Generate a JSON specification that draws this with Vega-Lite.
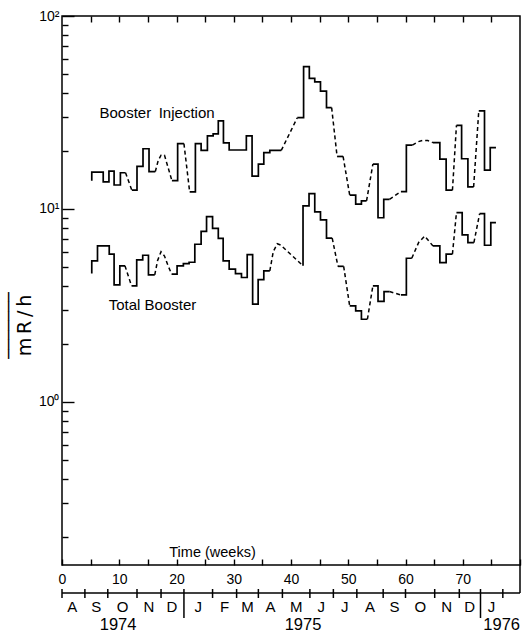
{
  "$schema": "https://vega.github.io/schema/vega-lite/v6.json",
  "background": "white",
  "padding": {"left": 6, "top": 8, "right": 0, "bottom": 0},
  "bounds": "flush",
  "spacing": 0,
  "config": {
    "font": "Liberation Sans",
    "view": {"stroke": "black", "strokeWidth": 1.5},
    "axis": {
      "domain": false,
      "grid": false,
      "tickColor": "black",
      "tickWidth": 1.4,
      "labelColor": "black",
      "labelFont": "Liberation Sans",
      "labelFontSize": 14,
      "titleColor": "black",
      "titleFont": "Liberation Sans",
      "titleFontWeight": "normal",
      "labelFlush": false,
      "labelOverlap": false
    },
    "text": {"color": "black"}
  },
  "datasets": {
    "steps": [
      {"run": "B1", "week": 5.2, "value": 14.0},
      {"run": "B1", "week": 5.2, "value": 15.5},
      {"run": "B1", "week": 7.2, "value": 13.8},
      {"run": "B1", "week": 8.2, "value": 15.7},
      {"run": "B1", "week": 9.1, "value": 13.3},
      {"run": "B1", "week": 10.2, "value": 15.4},
      {"run": "B1", "week": 11.1, "value": 15.4},
      {"run": "B2", "week": 12.2, "value": 12.5},
      {"run": "B2", "week": 13.1, "value": 16.6},
      {"run": "B2", "week": 14.15, "value": 20.5},
      {"run": "B2", "week": 15.2, "value": 15.6},
      {"run": "B2", "week": 16.3, "value": 15.6},
      {"run": "B3", "week": 19.2, "value": 14.0},
      {"run": "B3", "week": 20.2, "value": 21.8},
      {"run": "B3", "week": 21.3, "value": 21.8},
      {"run": "B4", "week": 22.3, "value": 12.25},
      {"run": "B4", "week": 23.3, "value": 21.8},
      {"run": "B4", "week": 24.3, "value": 20.1},
      {"run": "B4", "week": 25.4, "value": 23.9},
      {"run": "B4", "week": 26.4, "value": 24.5},
      {"run": "B4", "week": 27.3, "value": 28.6},
      {"run": "B4", "week": 28.2, "value": 22.0},
      {"run": "B4", "week": 29.2, "value": 20.2},
      {"run": "B4", "week": 32.2, "value": 23.9},
      {"run": "B4", "week": 33.2, "value": 14.8},
      {"run": "B4", "week": 34.3, "value": 17.05},
      {"run": "B4", "week": 35.25, "value": 19.6},
      {"run": "B4", "week": 36.3, "value": 20.1},
      {"run": "B4", "week": 38.3, "value": 20.1},
      {"run": "B5", "week": 41.1, "value": 29.7},
      {"run": "B5", "week": 42.2, "value": 54.6},
      {"run": "B5", "week": 43.2, "value": 47.5},
      {"run": "B5", "week": 44.15, "value": 45.5},
      {"run": "B5", "week": 45.15, "value": 40.8},
      {"run": "B5", "week": 46.2, "value": 33.5},
      {"run": "B5", "week": 47.1, "value": 33.5},
      {"run": "B6", "week": 48.05, "value": 18.7},
      {"run": "B6", "week": 49.1, "value": 18.7},
      {"run": "B7", "week": 50.25, "value": 11.8},
      {"run": "B7", "week": 51.3, "value": 10.6},
      {"run": "B7", "week": 52.3, "value": 11.0},
      {"run": "B7", "week": 53.2, "value": 11.0},
      {"run": "B8", "week": 54.3, "value": 17.05},
      {"run": "B8", "week": 55.2, "value": 9.0},
      {"run": "B8", "week": 56.2, "value": 11.2},
      {"run": "B8", "week": 57.2, "value": 11.2},
      {"run": "B9", "week": 59.2, "value": 12.3},
      {"run": "B9", "week": 60.15, "value": 21.4},
      {"run": "B9", "week": 61.2, "value": 21.4},
      {"run": "B10", "week": 64.8, "value": 22.05},
      {"run": "B10", "week": 66.0, "value": 18.1},
      {"run": "B10", "week": 67.1, "value": 12.5},
      {"run": "B10", "week": 68.2, "value": 12.5},
      {"run": "B11", "week": 68.9, "value": 27.1},
      {"run": "B11", "week": 69.8, "value": 18.2},
      {"run": "B11", "week": 70.9, "value": 13.0},
      {"run": "B11", "week": 71.9, "value": 13.0},
      {"run": "B12", "week": 72.8, "value": 32.2},
      {"run": "B12", "week": 73.8, "value": 15.9},
      {"run": "B12", "week": 74.8, "value": 20.8},
      {"run": "B12", "week": 75.8, "value": 20.8},
      {"run": "T1", "week": 5.2, "value": 4.62},
      {"run": "T1", "week": 5.2, "value": 5.38},
      {"run": "T1", "week": 6.2, "value": 6.43},
      {"run": "T1", "week": 8.25, "value": 5.83},
      {"run": "T1", "week": 9.1, "value": 4.04},
      {"run": "T1", "week": 10.1, "value": 5.07},
      {"run": "T1", "week": 11.0, "value": 5.07},
      {"run": "T2", "week": 12.15, "value": 3.99},
      {"run": "T2", "week": 13.05, "value": 5.44},
      {"run": "T2", "week": 14.1, "value": 5.75},
      {"run": "T2", "week": 15.1, "value": 4.55},
      {"run": "T2", "week": 16.2, "value": 4.55},
      {"run": "T3", "week": 19.15, "value": 4.59},
      {"run": "T3", "week": 20.1, "value": 5.07},
      {"run": "T3", "week": 21.2, "value": 5.21},
      {"run": "T3", "week": 22.2, "value": 5.29},
      {"run": "T3", "week": 23.2, "value": 6.56},
      {"run": "T3", "week": 24.3, "value": 7.64},
      {"run": "T3", "week": 25.25, "value": 9.11},
      {"run": "T3", "week": 26.3, "value": 7.93},
      {"run": "T3", "week": 27.3, "value": 7.03},
      {"run": "T3", "week": 28.15, "value": 5.38},
      {"run": "T3", "week": 29.2, "value": 4.87},
      {"run": "T3", "week": 30.3, "value": 4.62},
      {"run": "T3", "week": 31.35, "value": 4.41},
      {"run": "T3", "week": 32.35, "value": 5.8},
      {"run": "T3", "week": 33.3, "value": 3.21},
      {"run": "T3", "week": 34.26, "value": 4.3},
      {"run": "T3", "week": 35.25, "value": 4.77},
      {"run": "T3", "week": 36.3, "value": 4.77},
      {"run": "T4", "week": 42.1, "value": 5.07},
      {"run": "T4", "week": 42.1, "value": 10.37},
      {"run": "T4", "week": 43.15, "value": 12.0},
      {"run": "T4", "week": 44.15, "value": 9.65},
      {"run": "T4", "week": 45.15, "value": 8.77},
      {"run": "T4", "week": 46.2, "value": 7.05},
      {"run": "T4", "week": 47.2, "value": 7.05},
      {"run": "T5", "week": 48.2, "value": 5.04},
      {"run": "T5", "week": 49.2, "value": 5.04},
      {"run": "T6", "week": 50.25, "value": 3.14},
      {"run": "T6", "week": 51.3, "value": 2.96},
      {"run": "T6", "week": 52.3, "value": 2.68},
      {"run": "T6", "week": 53.35, "value": 2.68},
      {"run": "T7", "week": 54.3, "value": 3.99},
      {"run": "T7", "week": 55.2, "value": 3.32},
      {"run": "T7", "week": 56.25, "value": 3.73},
      {"run": "T7", "week": 57.2, "value": 3.73},
      {"run": "T8", "week": 59.2, "value": 3.58},
      {"run": "T8", "week": 60.15, "value": 5.55},
      {"run": "T8", "week": 61.1, "value": 5.55},
      {"run": "T9", "week": 64.8, "value": 6.43},
      {"run": "T9", "week": 66.0, "value": 5.27},
      {"run": "T9", "week": 67.1, "value": 5.83},
      {"run": "T9", "week": 68.2, "value": 5.83},
      {"run": "T10", "week": 68.9, "value": 9.57},
      {"run": "T10", "week": 69.9, "value": 7.33},
      {"run": "T10", "week": 70.9, "value": 6.69},
      {"run": "T10", "week": 71.95, "value": 6.69},
      {"run": "T11", "week": 72.95, "value": 9.45},
      {"run": "T11", "week": 73.8, "value": 6.48},
      {"run": "T11", "week": 74.9, "value": 8.49},
      {"run": "T11", "week": 75.8, "value": 8.49}
    ],
    "gaps": [
      {"gap": "b1", "week": 11.1, "value": 15.4},
      {"gap": "b1", "week": 12.2, "value": 12.5},
      {"gap": "b2", "week": 16.3, "value": 15.6},
      {"gap": "b2", "week": 16.8, "value": 17.8},
      {"gap": "b2", "week": 17.3, "value": 19.0},
      {"gap": "b2", "week": 17.9, "value": 19.0},
      {"gap": "b2", "week": 18.5, "value": 16.5},
      {"gap": "b2", "week": 19.2, "value": 14.0},
      {"gap": "b3", "week": 21.3, "value": 21.8},
      {"gap": "b3", "week": 22.3, "value": 12.25},
      {"gap": "b4", "week": 38.3, "value": 20.1},
      {"gap": "b4", "week": 41.1, "value": 29.7},
      {"gap": "b5", "week": 47.1, "value": 33.5},
      {"gap": "b5", "week": 48.05, "value": 18.7},
      {"gap": "b6", "week": 49.1, "value": 18.7},
      {"gap": "b6", "week": 50.25, "value": 11.8},
      {"gap": "b7", "week": 53.2, "value": 11.0},
      {"gap": "b7", "week": 54.3, "value": 17.05},
      {"gap": "b8", "week": 57.2, "value": 11.2},
      {"gap": "b8", "week": 59.2, "value": 12.3},
      {"gap": "b9", "week": 61.2, "value": 21.4},
      {"gap": "b9", "week": 62.2, "value": 22.3},
      {"gap": "b9", "week": 63.1, "value": 22.7},
      {"gap": "b9", "week": 63.9, "value": 22.6},
      {"gap": "b9", "week": 64.8, "value": 22.05},
      {"gap": "b10", "week": 68.2, "value": 12.5},
      {"gap": "b10", "week": 68.9, "value": 27.1},
      {"gap": "b11", "week": 71.9, "value": 13.0},
      {"gap": "b11", "week": 72.8, "value": 32.2},
      {"gap": "t1", "week": 11.0, "value": 5.07},
      {"gap": "t1", "week": 12.15, "value": 3.99},
      {"gap": "t2", "week": 16.2, "value": 4.55},
      {"gap": "t2", "week": 16.7, "value": 5.4},
      {"gap": "t2", "week": 17.3, "value": 6.0},
      {"gap": "t2", "week": 17.9, "value": 5.7},
      {"gap": "t2", "week": 18.5, "value": 5.1},
      {"gap": "t2", "week": 19.15, "value": 4.59},
      {"gap": "t3", "week": 36.3, "value": 4.77},
      {"gap": "t3", "week": 36.9, "value": 6.0},
      {"gap": "t3", "week": 37.6, "value": 6.6},
      {"gap": "t3", "week": 38.2, "value": 6.5},
      {"gap": "t3", "week": 42.1, "value": 5.07},
      {"gap": "t4", "week": 47.2, "value": 7.05},
      {"gap": "t4", "week": 48.2, "value": 5.04},
      {"gap": "t5", "week": 49.2, "value": 5.04},
      {"gap": "t5", "week": 50.25, "value": 3.14},
      {"gap": "t6", "week": 53.35, "value": 2.68},
      {"gap": "t6", "week": 54.3, "value": 3.99},
      {"gap": "t7", "week": 57.2, "value": 3.73},
      {"gap": "t7", "week": 59.2, "value": 3.58},
      {"gap": "t8", "week": 61.1, "value": 5.55},
      {"gap": "t8", "week": 62.3, "value": 6.7},
      {"gap": "t8", "week": 63.35, "value": 7.22},
      {"gap": "t8", "week": 64.8, "value": 6.43},
      {"gap": "t9", "week": 68.2, "value": 5.83},
      {"gap": "t9", "week": 68.9, "value": 9.57},
      {"gap": "t10", "week": 71.95, "value": 6.69},
      {"gap": "t10", "week": 72.95, "value": 9.45}
    ],
    "labels": [
      {"label": "Booster\u2002Injection", "week": 16.6, "value": 31.4},
      {"label": "Total Booster", "week": 15.8, "value": 3.18}
    ],
    "bounds": [
      {"week": 0, "kind": "month"},
      {"week": 4.0, "kind": "month"},
      {"week": 8.0, "kind": "month"},
      {"week": 13.1, "kind": "month"},
      {"week": 17.3, "kind": "month"},
      {"week": 21.3, "kind": "year"},
      {"week": 26.3, "kind": "month"},
      {"week": 30.5, "kind": "month"},
      {"week": 34.3, "kind": "month"},
      {"week": 38.5, "kind": "month"},
      {"week": 43.3, "kind": "month"},
      {"week": 47.4, "kind": "month"},
      {"week": 51.5, "kind": "month"},
      {"week": 56.1, "kind": "month"},
      {"week": 60.0, "kind": "month"},
      {"week": 65.1, "kind": "month"},
      {"week": 69.4, "kind": "month"},
      {"week": 73.1, "kind": "year"},
      {"week": 77.0, "kind": "month"}
    ],
    "months": [
      {"m": "A", "at": 1.8},
      {"m": "S", "at": 6.0},
      {"m": "O", "at": 10.6},
      {"m": "N", "at": 15.2},
      {"m": "D", "at": 19.2},
      {"m": "J", "at": 23.8},
      {"m": "F", "at": 28.4},
      {"m": "M", "at": 32.4},
      {"m": "A", "at": 36.4},
      {"m": "M", "at": 40.9},
      {"m": "J", "at": 45.3},
      {"m": "J", "at": 49.4},
      {"m": "A", "at": 53.8},
      {"m": "S", "at": 58.1},
      {"m": "O", "at": 62.6},
      {"m": "N", "at": 67.2},
      {"m": "D", "at": 71.2},
      {"m": "J", "at": 75.0}
    ],
    "years": [
      {"year": "1974", "at": 9.8},
      {"year": "1975", "at": 42.1},
      {"year": "1976", "at": 80.0}
    ]
  },
  "vconcat": [
    {
      "width": 458,
      "height": 549,
      "layer": [
        {
          "data": {"name": "steps"},
          "mark": {"type": "line", "interpolate": "step-after", "color": "black", "strokeWidth": 1.7},
          "encoding": {
            "x": {
              "field": "week",
              "type": "quantitative",
              "scale": {"domain": [0, 80], "nice": false, "zero": false},
              "axis": {
                "orient": "bottom",
                "values": [0, 5, 10, 15, 20, 25, 30, 35, 40, 45, 50, 55, 60, 65, 70, 75, 80],
                "tickSize": -6,
                "labelPadding": 13,
                "labelExpr": "datum.value % 10 === 0 && datum.value <= 70 ? datum.label : ''",
                "title": "Time (weeks)",
                "titleFontSize": 14.5,
                "titleX": 150,
                "titleY": -13,
                "titleAlign": "center",
                "titleBaseline": "middle"
              }
            },
            "y": {
              "field": "value",
              "type": "quantitative",
              "scale": {"type": "log", "domain": [0.1426, 100], "nice": false},
              "axis": {
                "orient": "left",
                "values": [1, 10, 100],
                "tickSize": -12,
                "labelPadding": 15,
                "labelBaseline": "middle",
                "labelExpr": "datum.value === 100 ? '10²' : datum.value === 10 ? '10¹' : '10⁰'",
                "title": "m\u2009R\u2009/\u2009h",
                "titleFont": "DejaVu Sans",
                "titleFontSize": 19,
                "titleAngle": -90,
                "titleAlign": "center",
                "titleBaseline": "bottom",
                "titleX": -28,
                "titleY": 309
              }
            },
            "detail": {"field": "run", "type": "nominal"}
          }
        },
        {
          "data": {"name": "gaps"},
          "mark": {"type": "line", "color": "black", "strokeWidth": 1.5, "strokeDash": [4, 3]},
          "encoding": {
            "x": {
              "field": "week",
              "type": "quantitative",
              "scale": {"domain": [0, 80], "nice": false, "zero": false},
              "axis": {
                "orient": "top",
                "values": [5, 10, 15, 20, 25, 30, 35, 40, 45, 50, 55, 60, 65, 70, 75],
                "tickSize": -6,
                "labels": false,
                "title": null
              }
            },
            "y": {
              "field": "value",
              "type": "quantitative",
              "scale": {"type": "log", "domain": [0.1426, 100], "nice": false},
              "axis": {
                "orient": "left",
                "values": [0.2, 0.3, 0.4, 0.5, 0.6, 0.7, 0.8, 0.9, 2, 3, 4, 5, 6, 7, 8, 9, 20, 30, 40, 50, 60, 70, 80, 90],
                "tickSize": -6,
                "labels": false,
                "title": "‾‾‾‾‾‾‾",
                "titleFont": "DejaVu Sans",
                "titleFontSize": 19,
                "titleAngle": -90,
                "titleAlign": "center",
                "titleBaseline": "alphabetic",
                "titleX": -39.5,
                "titleY": 309
              }
            },
            "detail": {"field": "gap", "type": "nominal"}
          }
        },
        {
          "data": {"name": "labels"},
          "mark": {"type": "text", "fontSize": 15, "font": "Liberation Sans"},
          "encoding": {
            "x": {"field": "week", "type": "quantitative", "scale": {"domain": [0, 80], "nice": false, "zero": false}, "axis": null},
            "y": {"field": "value", "type": "quantitative", "scale": {"type": "log", "domain": [0.1426, 100], "nice": false}, "axis": null},
            "text": {"field": "label", "type": "nominal"}
          }
        }
      ],
      "resolve": {"axis": {"x": "independent", "y": "independent"}}
    },
    {
      "width": 458,
      "height": 68,
      "view": {"stroke": null},
      "layer": [
        {
          "data": {"values": [{"from": 0, "to": 80}]},
          "mark": {"type": "rule", "color": "black", "strokeWidth": 1.5},
          "encoding": {
            "x": {"field": "from", "type": "quantitative", "scale": {"domain": [0, 80], "nice": false, "zero": false}, "axis": null},
            "x2": {"field": "to"},
            "y": {"datum": 28, "type": "quantitative", "scale": {"domain": [0, 68], "reverse": true, "nice": false, "zero": false}, "axis": null}
          }
        },
        {
          "data": {"name": "bounds"},
          "transform": [{"filter": "datum.kind === 'month'"}],
          "mark": {"type": "rule", "color": "black", "strokeWidth": 1.5},
          "encoding": {
            "x": {"field": "week", "type": "quantitative"},
            "y": {"datum": 24},
            "y2": {"datum": 33}
          }
        },
        {
          "data": {"name": "bounds"},
          "transform": [{"filter": "datum.kind === 'year'"}],
          "mark": {"type": "rule", "color": "black", "strokeWidth": 1.5},
          "encoding": {
            "x": {"field": "week", "type": "quantitative"},
            "y": {"datum": 24},
            "y2": {"datum": 53}
          }
        },
        {
          "data": {"values": [{"edge": 80}]},
          "mark": {"type": "rule", "color": "black", "strokeWidth": 1.5},
          "encoding": {
            "x": {"field": "edge", "type": "quantitative"},
            "y": {"datum": 0},
            "y2": {"datum": 28}
          }
        },
        {
          "data": {"name": "months"},
          "mark": {"type": "text", "fontSize": 15, "font": "Liberation Sans"},
          "encoding": {
            "x": {"field": "at", "type": "quantitative"},
            "y": {"datum": 42},
            "text": {"field": "m", "type": "nominal"}
          }
        },
        {
          "data": {"name": "years"},
          "transform": [{"filter": "datum.year !== '1976'"}],
          "mark": {"type": "text", "fontSize": 16.5, "font": "Liberation Sans"},
          "encoding": {
            "x": {"field": "at", "type": "quantitative"},
            "y": {"datum": 60},
            "text": {"field": "year", "type": "nominal"}
          }
        },
        {
          "data": {"name": "years"},
          "transform": [{"filter": "datum.year === '1976'"}],
          "mark": {"type": "text", "fontSize": 16.5, "font": "Liberation Sans", "align": "right"},
          "encoding": {
            "x": {"field": "at", "type": "quantitative"},
            "y": {"datum": 60},
            "text": {"field": "year", "type": "nominal"}
          }
        }
      ]
    }
  ]
}
